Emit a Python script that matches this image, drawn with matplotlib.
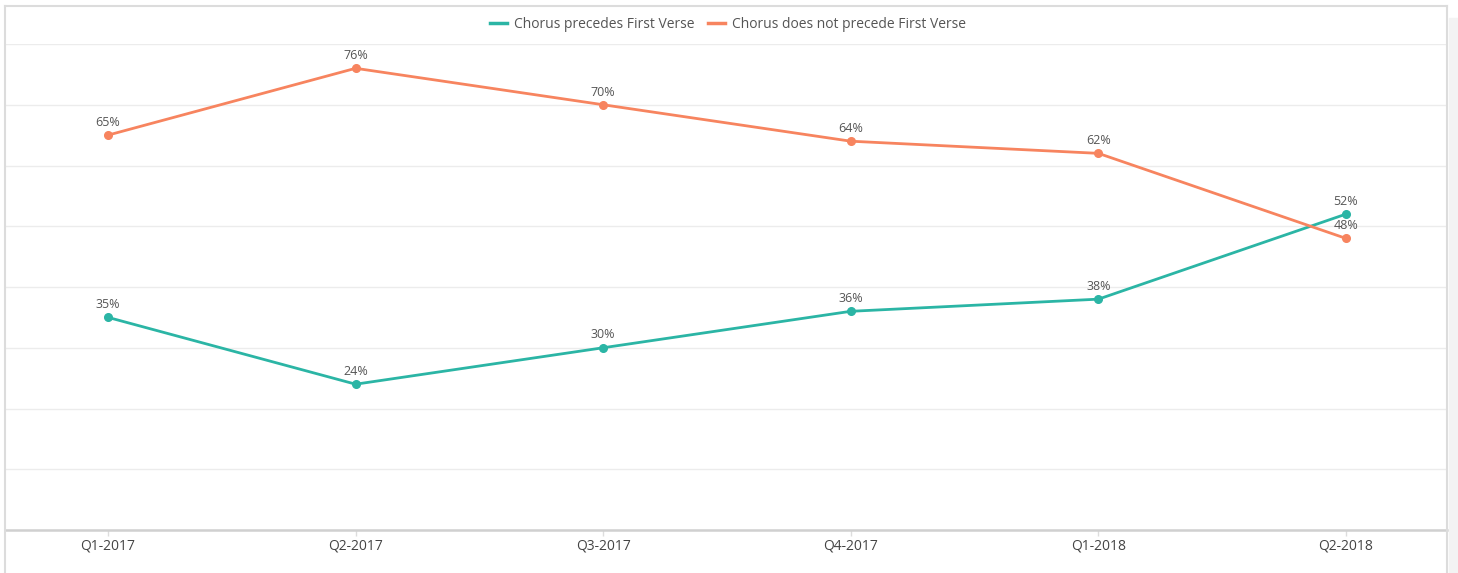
import matplotlib
matplotlib.use("Agg")
import matplotlib.pyplot as plt
from matplotlib.lines import Line2D
from matplotlib.patches import Rectangle

plt.rcParams['font.family'] = ['Open Sans', 'DejaVu Sans']

quarters = ["Q1-2017", "Q2-2017", "Q3-2017", "Q4-2017", "Q1-2018", "Q2-2018"]
chorus_precedes = [35, 24, 30, 36, 38, 52]
chorus_not_precedes = [65, 76, 70, 64, 62, 48]
series_names = ["Chorus precedes First Verse", "Chorus does not precede First Verse"]
colors = ["#2bb5a5", "#f7845f"]

W, H = 1458, 573
fig = plt.figure(figsize=(W / 100, H / 100), dpi=100)

# outer frame & right grey panel
fig.patches.append(Rectangle((1449 / W, 0), (W - 1449) / W, (H - 18) / H,
                             transform=fig.transFigure, color="#f3f3f3", zorder=0))
for (x0, y0, x1, y1) in [(5, 6, 1447, 6), (5, 6, 5, H), (1447, 6, 1447, H)]:
    fig.add_artist(Line2D([x0 / W, x1 / W], [1 - y0 / H, 1 - y1 / H],
                          transform=fig.transFigure, color="#dcdcdc", lw=1.5))

ax = fig.add_axes([6 / W, (H - 530) / H, (1447 - 6) / W, (530 - 44) / H])
x = list(range(len(quarters)))
ax.set_xlim(-0.412, 5.408)
ax.set_ylim(0, 80)

for s, (vals, name, c) in enumerate(zip([chorus_precedes, chorus_not_precedes], series_names, colors)):
    ax.plot(x, vals, color=c, lw=2.0, marker="o", ms=5.5, label=name, zorder=3,
            solid_capstyle="round")
    for xi, v in zip(x, vals):
        ax.annotate(f"{v}%", (xi, v), xytext=(0, 4.5), textcoords="offset points",
                    ha="center", va="bottom", fontsize=9, color="#555555", zorder=4)

ax.set_yticks(range(0, 81, 10))
ax.yaxis.grid(True, color="#ececec", lw=1)
ax.set_axisbelow(True)
ax.tick_params(axis="y", left=False, labelleft=False)
ax.set_xticks(x)
ax.set_xticklabels(quarters, fontsize=10, color="#444444")
ax.tick_params(axis="x", length=4, color="#dddddd", width=1, pad=2)
for side in ["top", "left", "right"]:
    ax.spines[side].set_visible(False)
ax.spines["bottom"].set_color("#d0d0d0")
ax.spines["bottom"].set_linewidth(1.8)

handles = [Line2D([0], [0], color=c, lw=2.5) for c in colors]
fig.legend(handles, series_names, loc="center", bbox_to_anchor=(728 / W, 1 - 24 / H),
           ncol=2, frameon=False, fontsize=10, labelcolor="#555555",
           handlelength=1.2, handletextpad=0.5, columnspacing=1.0)

fig.savefig("out.png", dpi=100)
